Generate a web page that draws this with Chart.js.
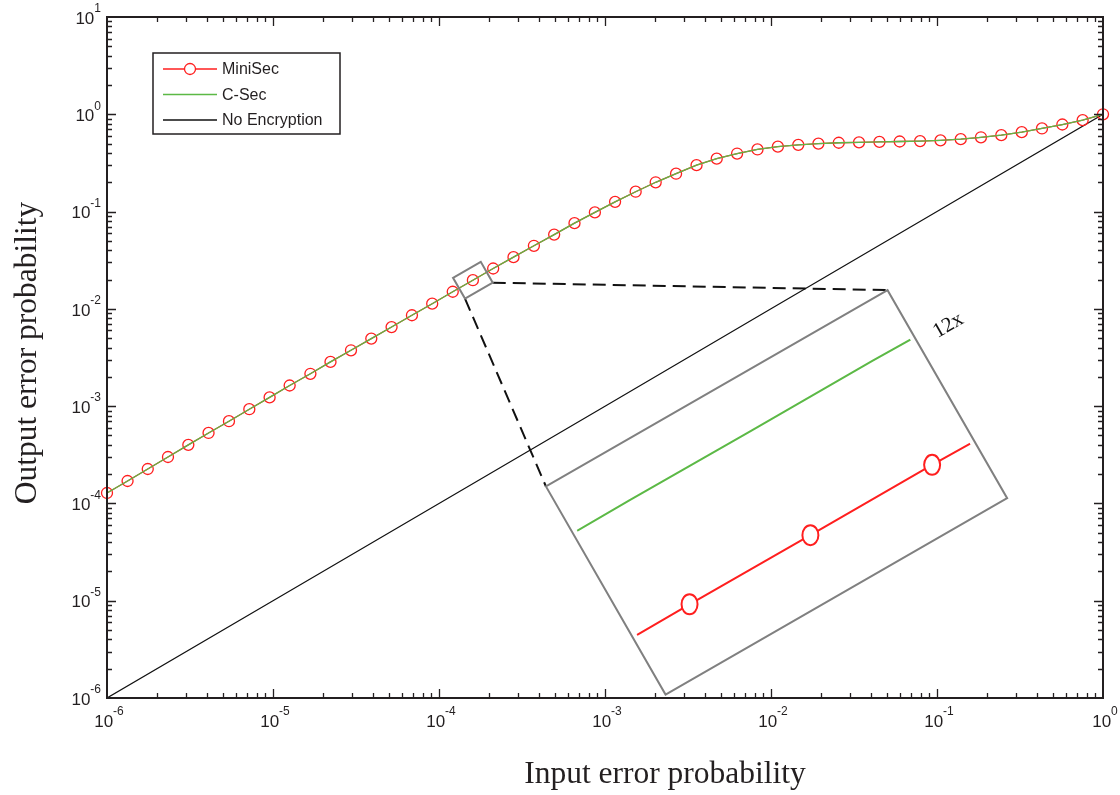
<!DOCTYPE html>
<html>
<head>
<meta charset="utf-8">
<script src="https://cdn.jsdelivr.net/npm/chart.js@4.4.0/dist/chart.umd.min.js"></script>
<style>
  html, body { margin: 0; padding: 0; background: #fff; }
  #wrap { width: 1120px; height: 795px; position: relative; }
</style>
</head>
<body>
<div id="wrap"><canvas id="errChart"></canvas></div>
<script>
// input error probability, log-spaced samples
const inputProb = [
  1.00e-6, 1.33e-6, 1.76e-6, 2.33e-6, 3.09e-6, 4.09e-6, 5.43e-6, 7.20e-6, 9.54e-6,
  1.26e-5, 1.68e-5, 2.22e-5, 2.95e-5, 3.91e-5, 5.18e-5, 6.87e-5, 9.10e-5,
  1.21e-4, 1.60e-4, 2.12e-4, 2.81e-4, 3.73e-4, 4.94e-4, 6.55e-4, 8.69e-4,
  1.15e-3, 1.53e-3, 2.02e-3, 2.68e-3, 3.56e-3, 4.71e-3, 6.25e-3, 8.29e-3,
  1.10e-2, 1.46e-2, 1.93e-2, 2.56e-2, 3.39e-2, 4.50e-2, 5.96e-2, 7.91e-2,
  0.105, 0.139, 0.184, 0.244, 0.324, 0.429, 0.569, 0.754, 1.0
];

// output error probability per scheme
const miniSec = [
  1.28e-4, 1.70e-4, 2.26e-4, 3.00e-4, 4.00e-4, 5.30e-4, 7.00e-4, 9.30e-4, 1.23e-3,
  1.63e-3, 2.15e-3, 2.85e-3, 3.75e-3, 4.95e-3, 6.50e-3, 8.60e-3, 1.13e-2,
  1.50e-2, 1.97e-2, 2.60e-2, 3.40e-2, 4.45e-2, 5.80e-2, 7.60e-2, 9.80e-2,
  0.126, 0.160, 0.200, 0.245, 0.300, 0.350, 0.395, 0.435,
  0.465, 0.485, 0.500, 0.510, 0.515, 0.520, 0.525, 0.530,
  0.540, 0.555, 0.580, 0.610, 0.655, 0.715, 0.785, 0.870, 1.0
];
const cSec = [
  1.28e-4, 1.70e-4, 2.26e-4, 3.00e-4, 4.00e-4, 5.30e-4, 7.00e-4, 9.30e-4, 1.23e-3,
  1.63e-3, 2.15e-3, 2.85e-3, 3.75e-3, 4.95e-3, 6.50e-3, 8.60e-3, 1.13e-2,
  1.50e-2, 1.97e-2, 2.60e-2, 3.40e-2, 4.45e-2, 5.80e-2, 7.60e-2, 9.80e-2,
  0.126, 0.160, 0.200, 0.245, 0.300, 0.350, 0.395, 0.435,
  0.465, 0.485, 0.500, 0.510, 0.515, 0.520, 0.525, 0.530,
  0.540, 0.555, 0.580, 0.610, 0.655, 0.715, 0.785, 0.870, 1.0
];
const noEncX = [1e-6, 1e-5, 1e-4, 1e-3, 1e-2, 1e-1, 1];
const noEncY = [1e-6, 1e-5, 1e-4, 1e-3, 1e-2, 1e-1, 1];

// decade exponents used for tick labels
const xExponents = [-6, -5, -4, -3, -2, -1, 0];
const yExponents = [-6, -5, -4, -3, -2, -1, 0, 1];

const RED = '#ff1f1f';
const GREEN = '#5cb946';
const INK = '#231f20';
const SANS = '"Liberation Sans", Arial, sans-serif';
const SERIF = '"Liberation Serif", "Times New Roman", serif';

const toPoints = (xs, ys) => xs.map((v, i) => ({ x: v, y: ys[i] }));

// draws "10" with a raised exponent; anchor is 'center' or 'right'
function drawPower(ctx, exp, px, py, anchor) {
  ctx.font = '17px ' + SANS;
  const wb = ctx.measureText('10').width;
  ctx.font = '12px ' + SANS;
  const we = ctx.measureText(String(exp)).width;
  let start = anchor === 'right' ? px - wb - we : px - (wb + we) / 2;
  ctx.textAlign = 'left';
  ctx.textBaseline = 'middle';
  ctx.font = '17px ' + SANS;
  ctx.fillText('10', start, py);
  ctx.font = '12px ' + SANS;
  ctx.fillText(String(exp), start + wb, py - 10);
}

// box frame, inward ticks on all four sides, tick labels and axis titles
const axisFrame = {
  id: 'axisFrame',
  afterDraw(chart) {
    const { ctx, chartArea: a, scales: { x, y } } = chart;
    ctx.save();
    ctx.strokeStyle = INK;
    ctx.fillStyle = INK;

    ctx.lineWidth = 1.3;
    ctx.beginPath();
    for (let k = -6; k <= 0; k++) {
      for (let m = 1; m <= 9; m++) {
        const v = m * Math.pow(10, k);
        if (v <= 1e-6 || v >= 1) continue;
        const px = Math.round(x.getPixelForValue(v)) + 0.5;
        const len = m === 1 ? 9 : 5;
        ctx.moveTo(px, a.bottom); ctx.lineTo(px, a.bottom - len);
        ctx.moveTo(px, a.top); ctx.lineTo(px, a.top + len);
      }
    }
    for (let k = -6; k <= 1; k++) {
      for (let m = 1; m <= 9; m++) {
        const v = m * Math.pow(10, k);
        if (v <= 1e-6 || v >= 10) continue;
        const py = Math.round(y.getPixelForValue(v)) + 0.5;
        const len = m === 1 ? 9 : 5;
        ctx.moveTo(a.left, py); ctx.lineTo(a.left + len, py);
        ctx.moveTo(a.right, py); ctx.lineTo(a.right - len, py);
      }
    }
    ctx.stroke();

    ctx.lineWidth = 2;
    ctx.strokeRect(a.left, a.top, a.right - a.left, a.bottom - a.top);

    xExponents.forEach(e => drawPower(ctx, e, x.getPixelForValue(Math.pow(10, e)) + 2, a.bottom + 24, 'center'));
    yExponents.forEach(e => drawPower(ctx, e, a.left - 6, y.getPixelForValue(Math.pow(10, e)) + 2, 'right'));

    ctx.font = '31.5px ' + SERIF;
    ctx.textAlign = 'center';
    ctx.textBaseline = 'middle';
    ctx.fillText('Input error probability', 665, 775);
    ctx.translate(28, 353);
    ctx.rotate(-Math.PI / 2);
    ctx.fillText('Output error probability', 0, 0);
    ctx.restore();
  }
};

// legend box in the upper-left corner of the plot
const legendBox = {
  id: 'legendBox',
  afterDraw(chart, args, opts) {
    const { ctx } = chart;
    const b = opts.box;
    ctx.save();
    ctx.fillStyle = '#fff';
    ctx.fillRect(b.x, b.y, b.w, b.h);
    ctx.strokeStyle = INK;
    ctx.lineWidth = 1.5;
    ctx.strokeRect(b.x, b.y, b.w, b.h);
    chart.data.datasets.forEach((ds, i) => {
      const ly = b.y + 16 + i * 25.5;
      ctx.strokeStyle = ds.borderColor;
      ctx.lineWidth = 1.3;
      ctx.beginPath();
      ctx.moveTo(b.x + 10, ly);
      ctx.lineTo(b.x + 64, ly);
      ctx.stroke();
      if (ds.pointRadius > 0) {
        ctx.fillStyle = '#fff';
        ctx.beginPath();
        ctx.arc(b.x + 37, ly, 5.5, 0, Math.PI * 2);
        ctx.fill();
        ctx.stroke();
      }
      ctx.fillStyle = INK;
      ctx.font = '16px ' + SANS;
      ctx.textAlign = 'left';
      ctx.textBaseline = 'middle';
      ctx.fillText(ds.label, b.x + 69, ly + 1);
    });
    ctx.restore();
  }
};

// magnified view of the curves around one MiniSec sample
const insetView = {
  id: 'insetView',
  afterDatasetsDraw(chart, args, opts) {
    const { ctx, scales: { x, y } } = chart;
    const pts = chart.getDatasetMeta(opts.sourceDataset).data;
    const A = pts[opts.anchorIndex];
    const p0 = pts[opts.anchorIndex - 1], p1 = pts[opts.anchorIndex + 1];
    const ang = Math.atan2(p1.y - p0.y, p1.x - p0.x);
    const cs = Math.cos(ang), sn = Math.sin(ang);
    const cx = x.getPixelForValue(opts.center.x), cy = y.getPixelForValue(opts.center.y);
    const local = (ox, oy, u, v) => [ox + u * cs - v * sn, oy + u * sn + v * cs];

    const rectPath = (ox, oy, hu, hv) => {
      const c = [[-hu, -hv], [hu, -hv], [hu, hv], [-hu, hv]].map(([u, v]) => local(ox, oy, u, v));
      ctx.beginPath();
      ctx.moveTo(c[0][0], c[0][1]);
      for (let i = 1; i < 4; i++) ctx.lineTo(c[i][0], c[i][1]);
      ctx.closePath();
    };

    ctx.save();
    // connectors
    ctx.strokeStyle = '#111';
    ctx.lineWidth = 2;
    ctx.setLineDash([13, 7]);
    ctx.beginPath();
    let s = local(A.x, A.y, opts.srcHalfU, opts.srcHalfV), t = local(cx, cy, opts.halfU, -opts.halfV);
    ctx.moveTo(s[0], s[1]); ctx.lineTo(t[0], t[1]);
    s = local(A.x, A.y, -opts.srcHalfU, opts.srcHalfV); t = local(cx, cy, -opts.halfU, -opts.halfV);
    ctx.moveTo(s[0], s[1]); ctx.lineTo(t[0], t[1]);
    ctx.stroke();
    ctx.setLineDash([]);

    // source and target frames
    ctx.strokeStyle = '#808080';
    ctx.lineWidth = 2;
    rectPath(A.x, A.y, opts.srcHalfU, opts.srcHalfV);
    ctx.stroke();
    rectPath(cx, cy, opts.halfU, opts.halfV);
    ctx.fillStyle = '#fff';
    ctx.fill();
    ctx.stroke();

    // magnified curves
    ctx.save();
    rectPath(cx, cy, opts.clipU, opts.halfV);
    ctx.clip();
    opts.series.forEach(sr => {
      const ds = chart.data.datasets[sr.dataset];
      const meta = chart.getDatasetMeta(sr.dataset).data;
      const [ox, oy] = local(cx, cy, opts.shiftU, sr.shiftV);
      const mag = meta.map(p => [ox + (p.x - A.x) * opts.zoom, oy + (p.y - A.y) * opts.zoom]);
      ctx.strokeStyle = ds.borderColor;
      ctx.lineWidth = 2;
      ctx.beginPath();
      mag.forEach(([px, py], i) => (i ? ctx.lineTo(px, py) : ctx.moveTo(px, py)));
      ctx.stroke();
      if (sr.markers) {
        ctx.fillStyle = '#fff';
        mag.forEach(([px, py]) => {
          ctx.beginPath();
          ctx.ellipse(px, py, 8, 10, 0, 0, Math.PI * 2);
          ctx.fill();
          ctx.stroke();
        });
      }
    });
    ctx.restore();

    // magnification label
    const [lx, ly] = local(cx, cy, opts.labelU, opts.labelV);
    ctx.translate(lx, ly);
    ctx.rotate(ang);
    ctx.fillStyle = '#111';
    ctx.font = '21px ' + SERIF;
    ctx.textAlign = 'center';
    ctx.textBaseline = 'middle';
    ctx.fillText(opts.label, 0, 0);
    ctx.restore();
  }
};

new Chart(document.getElementById('errChart'), {
  type: 'scatter',
  data: {
    datasets: [
      {
        label: 'MiniSec',
        data: toPoints(inputProb, miniSec),
        showLine: true,
        borderColor: RED,
        borderWidth: 1.3,
        pointRadius: 5.5,
        pointBorderColor: RED,
        pointBackgroundColor: 'rgba(0,0,0,0)',
        pointBorderWidth: 1.3,
        clip: false,
        order: 1
      },
      {
        label: 'C-Sec',
        data: toPoints(inputProb, cSec),
        showLine: true,
        borderColor: GREEN,
        borderWidth: 1.3,
        pointRadius: 0,
        order: 0
      },
      {
        label: 'No Encryption',
        data: toPoints(noEncX, noEncY),
        showLine: true,
        borderColor: '#111',
        borderWidth: 1.2,
        pointRadius: 0,
        order: 2
      }
    ]
  },
  options: {
    responsive: true,
    maintainAspectRatio: false,
    animation: false,
    events: [],
    layout: { padding: { left: 107, right: 17, top: 17, bottom: 97 } },
    scales: {
      x: { type: 'logarithmic', min: 1e-6, max: 1, display: false },
      y: { type: 'logarithmic', min: 1e-6, max: 10, display: false }
    },
    plugins: {
      legend: { display: false },
      tooltip: { enabled: false },
      legendBox: { box: { x: 153, y: 53, w: 187, h: 81 } },
      insetView: {
        sourceDataset: 0,
        anchorIndex: 18,
        center: { x: 1.08e-2, y: 1.3e-4 },
        zoom: 6,
        halfU: 197, halfV: 120,
        srcHalfU: 16, srcHalfV: 12,
        clipU: 192,
        shiftU: 8,
        series: [
          { dataset: 1, shiftV: -66 },
          { dataset: 0, shiftV: 54, markers: true }
        ],
        label: '12x',
        labelU: 232, labelV: -59
      }
    }
  },
  plugins: [axisFrame, insetView, legendBox]
});
</script>
</body>
</html>
